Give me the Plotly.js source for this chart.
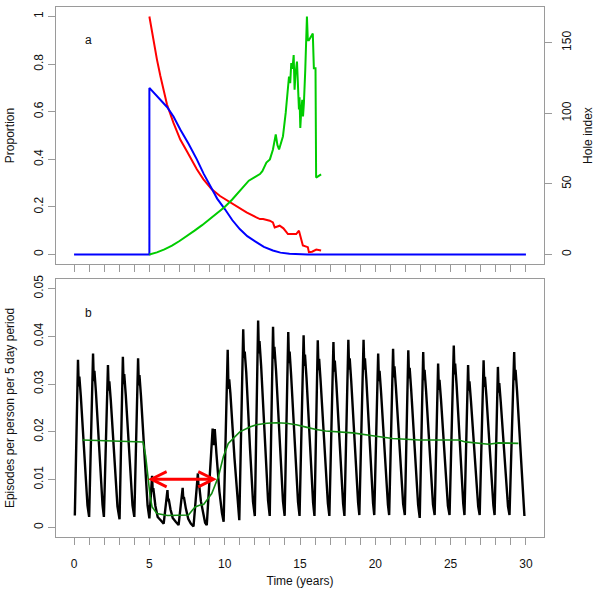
<!DOCTYPE html>
<html>
<head>
<meta charset="utf-8">
<script src="https://cdn.plot.ly/plotly-3.0.1.min.js"></script>
<style>html,body{margin:0;padding:0;background:#fff;}#chart{width:600px;height:600px;}</style>
</head>
<body>
<div id="chart"></div>
<script>
// ---------- Panel a ----------
const blueTime = [0, 5, 5, 5.5, 6.17, 6.6, 7.05, 7.6, 8.15, 8.6, 9.03, 9.5, 10.02, 10.5, 11.0, 11.5, 12.1, 12.6, 13.2, 13.7, 14.3, 15.0, 15.5, 30];
const blueProp = [0, 0, 0.70, 0.665, 0.62, 0.58, 0.525, 0.465, 0.40, 0.34, 0.288, 0.235, 0.19, 0.145, 0.107, 0.077, 0.052, 0.032, 0.017, 0.008, 0.003, 0.001, 0, 0];

const redTime = [5.0, 5.18, 5.5, 5.73, 6.17, 6.6, 7.05, 7.49, 8.15, 8.59, 9.14, 9.69, 10.35, 11.45, 12.1,
  12.34, 12.55, 12.99, 13.2, 13.32, 13.65, 13.9, 14.2, 14.53, 14.75, 14.93, 15.08, 15.19, 15.52, 15.59,
  15.8, 16.08, 16.4];
const redProp = [1.0, 0.93, 0.82, 0.75, 0.63, 0.553, 0.483, 0.434, 0.358, 0.316, 0.274, 0.246, 0.219, 0.177, 0.156,
  0.149, 0.149, 0.142, 0.135, 0.114, 0.121, 0.11, 0.086, 0.086, 0.086, 0.100, 0.066, 0.038, 0.031, 0.010,
  0.012, 0.021, 0.017];

const holeTime = [5.0, 5.5, 6.0, 6.5, 7.0, 7.5, 8.0, 8.5, 9.0, 9.5, 10.0, 10.5, 11.0, 11.3, 11.6, 12.0, 12.34, 12.5, 12.77, 13.0, 13.2, 13.39,
  13.5, 13.61, 13.87, 14.05, 14.2, 14.27, 14.35, 14.42, 14.5, 14.58, 14.64, 14.7, 14.8, 14.86, 14.93,
  14.97, 15.02, 15.08, 15.15, 15.2, 15.26, 15.35, 15.46, 15.52, 15.59, 15.85, 15.92, 16.03, 16.07, 16.4];
const holeIndex = [0, 1.5, 3.7, 6.3, 9.6, 13.0, 16.9, 20.8, 25.0, 29.2, 33.7, 39.0, 45.2, 48.5, 52.3, 54.8, 57.0, 59.0, 65.1, 67.4, 74.2, 85.0,
  77.6, 74.4, 83.8, 100.3, 118.0, 126.1, 121.4, 135.6, 131.5, 141.3, 116.7, 128.1, 136.6, 118.0, 102.7,
  111.3, 89.7, 101.2, 109.6, 97.8, 107.4, 130.8, 168.6, 151.7, 151.7, 156.6, 132.0, 132.0, 54.5, 56.8];

// ---------- Panel b ----------
const epiTime = [
  0.05, 0.26, 0.31, 0.35, 0.45, 0.69, 0.89,
  1.0, 1.26, 1.31, 1.35, 1.45, 1.69, 1.89,
  1.98, 2.25, 2.30, 2.34, 2.44, 2.68, 2.88,
  3.02, 3.24, 3.29, 3.33, 3.43, 3.67, 3.88,
  4.0, 4.25, 4.30, 4.34, 4.44, 4.68, 4.88,
  5.0, 5.18, 5.22, 5.26, 5.4, 5.55, 5.75,
  5.95, 6.2, 6.24, 6.28, 6.4, 6.55, 6.75,
  6.94, 7.21, 7.25, 7.29, 7.42, 7.58, 7.75,
  7.93, 8.22, 8.26, 8.3, 8.42, 8.58, 8.7,
  8.81, 9.2, 9.27, 9.34, 9.45, 9.65, 9.82,
  9.93, 10.2, 10.25, 10.3, 10.38, 10.65, 10.85,
  10.97, 11.23, 11.28, 11.33, 11.43, 11.68, 11.88,
  12.0, 12.22, 12.27, 12.31, 12.42, 12.68, 12.88,
  12.99, 13.21, 13.26, 13.3, 13.41, 13.67, 13.87,
  13.98, 14.22, 14.27, 14.31, 14.41, 14.67, 14.87,
  14.97, 15.24, 15.29, 15.33, 15.43, 15.68, 15.87,
  15.96, 16.18, 16.23, 16.27, 16.37, 16.64, 16.85,
  16.95, 17.22, 17.27, 17.31, 17.41, 17.67, 17.86,
  17.95, 18.21, 18.26, 18.3, 18.4, 18.66, 18.86,
  18.94, 19.22, 19.27, 19.31, 19.41, 19.66, 19.85,
  19.93, 20.19, 20.24, 20.28, 20.38, 20.64, 20.84,
  20.92, 21.18, 21.23, 21.27, 21.37, 21.64, 21.85,
  21.96, 22.19, 22.24, 22.28, 22.38, 22.64, 22.84,
  22.95, 23.18, 23.23, 23.27, 23.37, 23.63, 23.83,
  23.94, 24.17, 24.22, 24.26, 24.36, 24.62, 24.82,
  24.93, 25.21, 25.26, 25.3, 25.4, 25.65, 25.84,
  25.92, 26.16, 26.21, 26.25, 26.35, 26.62, 26.83,
  26.93, 27.19, 27.24, 27.28, 27.38, 27.64, 27.84,
  27.92, 28.14, 28.19, 28.23, 28.33, 28.6, 28.81,
  28.91, 29.22, 29.27, 29.31, 29.41, 29.65, 29.9];
const epiRate = [
  0.0025, 0.0351, 0.0295, 0.0316, 0.0274, 0.014, 0.0046,
  0.0022, 0.0364, 0.0306, 0.0328, 0.0284, 0.0146, 0.0047,
  0.0022, 0.034, 0.0286, 0.0306, 0.0265, 0.0136, 0.0044,
  0.0017, 0.0357, 0.030, 0.0321, 0.0278, 0.0143, 0.0046,
  0.0022, 0.0354, 0.0297, 0.0319, 0.0276, 0.0142, 0.0046,
  0.0019, 0.0108, 0.0075, 0.0082, 0.0045, 0.0022, 0.0015,
  0.0008, 0.0078, 0.0055, 0.006, 0.0038, 0.002, 0.0012,
  0.0005, 0.0083, 0.006, 0.0064, 0.004, 0.0018, 0.0008,
  0.0002, 0.0113, 0.0085, 0.009, 0.0055, 0.0025, 0.001,
  0.0005, 0.0207, 0.0172, 0.0206, 0.0155, 0.0075, 0.003,
  0.0012, 0.0372, 0.029, 0.031, 0.028, 0.0145, 0.005,
  0.0015, 0.0415, 0.0355, 0.0368, 0.0325, 0.0166, 0.0054,
  0.0024, 0.0433, 0.0364, 0.039, 0.0338, 0.0173, 0.0056,
  0.0024, 0.042, 0.0353, 0.0378, 0.0328, 0.0168, 0.0055,
  0.0024, 0.0409, 0.0344, 0.0368, 0.0319, 0.0164, 0.0053,
  0.0024, 0.0402, 0.0338, 0.0362, 0.0314, 0.0161, 0.0052,
  0.0024, 0.0392, 0.0329, 0.0353, 0.0306, 0.0157, 0.0051,
  0.0024, 0.0388, 0.0326, 0.0349, 0.0303, 0.0155, 0.005,
  0.0024, 0.0393, 0.033, 0.0354, 0.0307, 0.0157, 0.0051,
  0.0026, 0.0393, 0.033, 0.0354, 0.0307, 0.0157, 0.0051,
  0.0026, 0.0364, 0.0306, 0.0328, 0.0284, 0.0146, 0.0047,
  0.0026, 0.0374, 0.0314, 0.0337, 0.0292, 0.015, 0.0049,
  0.0026, 0.0371, 0.0312, 0.0334, 0.0289, 0.0148, 0.0048,
  0.002, 0.0367, 0.0308, 0.033, 0.0286, 0.0147, 0.0048,
  0.0026, 0.0343, 0.0288, 0.0309, 0.0268, 0.0137, 0.0045,
  0.0026, 0.0381, 0.032, 0.0343, 0.0297, 0.0152, 0.005,
  0.0026, 0.034, 0.0286, 0.0306, 0.0265, 0.0136, 0.0044,
  0.0026, 0.035, 0.0294, 0.0315, 0.0273, 0.014, 0.0046,
  0.0026, 0.0336, 0.0282, 0.0302, 0.0262, 0.0134, 0.0044,
  0.0026, 0.0367, 0.0308, 0.033, 0.0286, 0.0147, 0.0024];

const meanTime = [0.55, 1.5, 2.5, 3.5, 4.58, 4.75, 4.89, 5.05, 5.18, 5.5, 6.2, 7.0, 7.6, 7.85, 8.04,
  8.37, 8.6, 8.81, 9.14, 9.58, 9.91, 10.24, 10.57, 11.0, 11.67, 12.11, 12.8, 13.43, 14.1, 14.75,
  15.4, 16.07, 16.7, 17.4, 18.5, 19.82, 21.14, 22.9, 24.2, 25.54, 25.98, 26.8, 27.52, 28.18, 29.5];
const meanRate = [0.0183, 0.0182, 0.0181, 0.018, 0.0179, 0.0150, 0.0106, 0.0065, 0.0043, 0.0029, 0.0025, 0.0025, 0.0026, 0.0036, 0.0043,
  0.0047, 0.0048, 0.0057, 0.0071, 0.0106, 0.0148, 0.0176, 0.0186, 0.020, 0.021, 0.0215, 0.0218, 0.0219, 0.0218, 0.0215,
  0.021, 0.0205, 0.0202, 0.020, 0.0198, 0.0192, 0.0186, 0.0183, 0.0183, 0.0183, 0.0179, 0.0177, 0.0174, 0.0177, 0.0176];

// arrow marking the intervention period (time, rate)
const arrowStart = [4.91, 0.0101];
const arrowEnd = [9.58, 0.0101];

// ---------- Ticks ----------
const timeTicks = [0,1,2,3,4,5,6,7,8,9,10,11,12,13,14,15,16,17,18,19,20,21,22,23,24,25,26,27,28,29,30];
const timeTickText = ['0','','','','','5','','','','','10','','','','','15','','','','','20','','','','','25','','','','','30'];
const propTicks = [0, 0.2, 0.4, 0.6, 0.8, 1];
const propTickText = ['0', '0.2', '0.4', '0.6', '0.8', '1'];
const holeTicks = [0, 50, 100, 150];
const holeTickText = ['0', '50', '100', '150'];
const rateTicks = [0, 0.01, 0.02, 0.03, 0.04, 0.05];
const rateTickText = ['0', '0.01', '0.02', '0.03', '0.04', '0.05'];

const FONT = 'Liberation Sans, Arial, Helvetica, sans-serif';
const BOX = '#9a9a9a';

const traces = [
  {x: holeTime, y: holeIndex, xaxis: 'x2', yaxis: 'y3', type: 'scatter', mode: 'lines',
   line: {color: '#00cc00', width: 2}, name: 'Hole index', showlegend: false},
  {x: redTime, y: redProp, xaxis: 'x2', yaxis: 'y2', type: 'scatter', mode: 'lines',
   line: {color: '#ff0000', width: 2}, name: 'red', showlegend: false},
  {x: blueTime, y: blueProp, xaxis: 'x2', yaxis: 'y2', type: 'scatter', mode: 'lines',
   line: {color: '#0000ff', width: 2}, name: 'blue', showlegend: false},
  {x: epiTime, y: epiRate, xaxis: 'x', yaxis: 'y', type: 'scatter', mode: 'lines',
   line: {color: '#000000', width: 2.4}, name: 'episodes', showlegend: false},
  {x: meanTime, y: meanRate, xaxis: 'x', yaxis: 'y', type: 'scatter', mode: 'lines',
   line: {color: '#108a10', width: 1.6}, name: 'mean', showlegend: false}
];

const commonAxis = {
  showgrid: false, zeroline: false, showline: true, mirror: true, linecolor: BOX, linewidth: 1,
  ticks: 'outside', ticklen: 7, tickcolor: BOX, tickwidth: 1,
  tickfont: {family: FONT, size: 12, color: '#111'}
};

const layout = {
  width: 600, height: 600,
  margin: {l: 56, r: 56, t: 7, b: 63, pad: 0},
  paper_bgcolor: '#ffffff', plot_bgcolor: '#ffffff',
  font: {family: FONT, size: 12, color: '#111'},
  showlegend: false,
  xaxis: Object.assign({}, commonAxis, {
    domain: [0, 1], anchor: 'y', range: [-1.2, 31.2],
    tickmode: 'array', tickvals: timeTicks, ticktext: timeTickText, ticklabelstandoff: 9,
    title: {text: 'Time (years)', font: {family: FONT, size: 12, color: '#111'}, standoff: 6}
  }),
  yaxis: Object.assign({}, commonAxis, {
    domain: [0, 0.4868], anchor: 'x', range: [-0.002, 0.052],
    tickmode: 'array', tickvals: rateTicks, ticktext: rateTickText, tickangle: -90,
    title: {text: 'Episodes per person per 5 day period', font: {family: FONT, size: 12, color: '#111'}, standoff: 14}
  }),
  xaxis2: Object.assign({}, commonAxis, {
    domain: [0, 1], anchor: 'y2', range: [-1.2, 31.2],
    tickmode: 'array', tickvals: timeTicks, showticklabels: false
  }),
  yaxis2: Object.assign({}, commonAxis, {
    domain: [0.515, 1], anchor: 'x2', range: [-0.04, 1.04],
    tickmode: 'array', tickvals: propTicks, ticktext: propTickText, tickangle: -90,
    title: {text: 'Proportion', font: {family: FONT, size: 12, color: '#111'}, standoff: 14}
  }),
  yaxis3: Object.assign({}, commonAxis, {
    domain: [0.515, 1], anchor: 'x2', overlaying: 'y2', side: 'right', range: [-6.74, 175.3],
    mirror: false,
    tickmode: 'array', tickvals: holeTicks, ticktext: holeTickText, tickangle: -90, ticklabelstandoff: 5,
    title: {text: 'Hole index', font: {family: FONT, size: 12, color: '#111'}, standoff: 10}
  }),
  annotations: [
    {x: 0.97, y: 0.90, xref: 'x2', yref: 'y2', text: 'a', showarrow: false,
     font: {family: FONT, size: 12, color: '#111'}},
    {x: 0.97, y: 0.0448, xref: 'x', yref: 'y', text: 'b', showarrow: false,
     font: {family: FONT, size: 12, color: '#111'}},
    {x: arrowStart[0], y: arrowStart[1], ax: arrowEnd[0], ay: arrowEnd[1],
     xref: 'x', yref: 'y', axref: 'x', ayref: 'y', text: '', showarrow: true,
     arrowside: 'end+start', arrowhead: 5, startarrowhead: 5, arrowsize: 1, startarrowsize: 1,
     arrowwidth: 3, arrowcolor: '#ff0000', standoff: 0, startstandoff: 0}
  ]
};

Plotly.newPlot('chart', traces, layout, {staticPlot: true, displayModeBar: false});
</script>
</body>
</html>
